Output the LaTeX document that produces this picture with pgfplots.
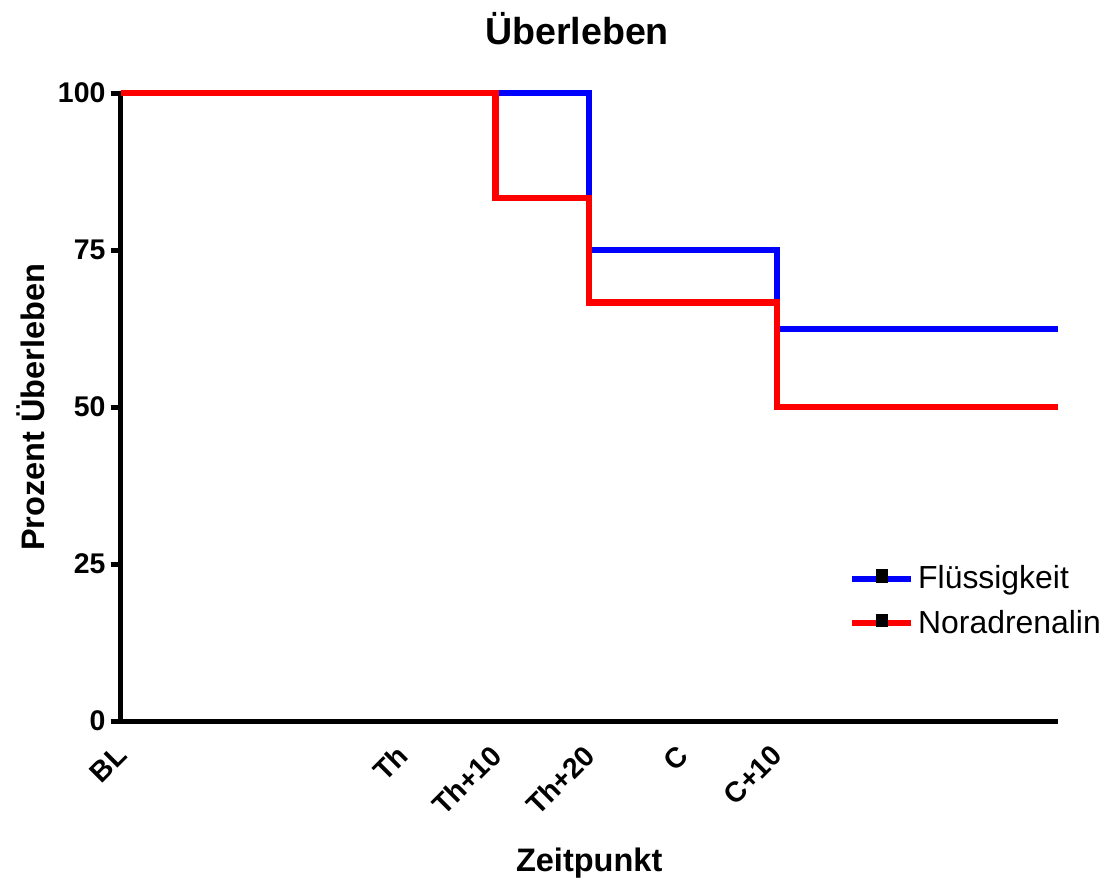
\documentclass[border=0pt]{standalone}
\usepackage{fontspec}
\setmainfont{Liberation Sans}
\usepackage{pgfplots}
\pgfplotsset{compat=1.18}
\begin{document}
\begin{tikzpicture}
\begin{axis}[
  scale only axis,
  width=461pt, height=309pt,
  xmin=0, xmax=10, ymin=0, ymax=100,
  axis x line=bottom, axis y line=left,
  axis line style={-, line width=2.6pt, black},
  clip=false,
  xtick={0,3,4,5,6,7},
  xticklabels={BL,Th,Th+10,Th+20,C,C+10},
  xtick style={draw=none},
  ytick={0,25,50,75,100},
  ytick style={line width=2.6pt, black},
  tick align=outside,
  major tick length=5pt,
  /pgf/number format/assume math mode=true,
  ticklabel style={font=\fontsize{14}{16}\selectfont\bfseries},
  xticklabel style={rotate=45, anchor=east, yshift=-7pt, xshift=-3pt},
  yticklabel style={xshift=1pt},
  title={\bfseries Überleben},
  title style={font=\fontsize{18.5}{22}\selectfont, yshift=14pt, xshift=-6pt},
  xlabel={\bfseries Zeitpunkt},
  ylabel={\bfseries Prozent Überleben},
  label style={font=\fontsize{16}{19}\selectfont},
  xlabel style={yshift=-7pt},
  ylabel style={yshift=-0.5pt},
  legend style={at={(0.777,0.255)}, anchor=north west, draw=none, fill=none,
    font=\fontsize{15.7}{19}\selectfont, row sep=5pt, inner sep=0pt,
    /tikz/every even column/.append style={column sep=2pt}},
  legend cell align=left,
  legend image code/.code={\draw[#1] (0pt,0pt) -- (29pt,0pt); \fill[black] (13.3pt,-0.5pt) rectangle (16.2pt,3pt);},
]
\addplot[const plot, blue, line width=3pt] coordinates {(0,100) (5,100) (5,75) (7,75) (7,62.5) (10,62.5)};
\addlegendentry{Flüssigkeit}
\addplot[const plot, red, line width=3pt] coordinates {(0,100) (4,100) (4,83.33) (5,83.33) (5,66.67) (7,66.67) (7,50) (10,50)};
\addlegendentry{Noradrenalin}
\end{axis}
\path (current bounding box.south west) +(-5pt,-4.4pt) (current bounding box.north east) +(2pt,3pt);
\end{tikzpicture}
\end{document}
